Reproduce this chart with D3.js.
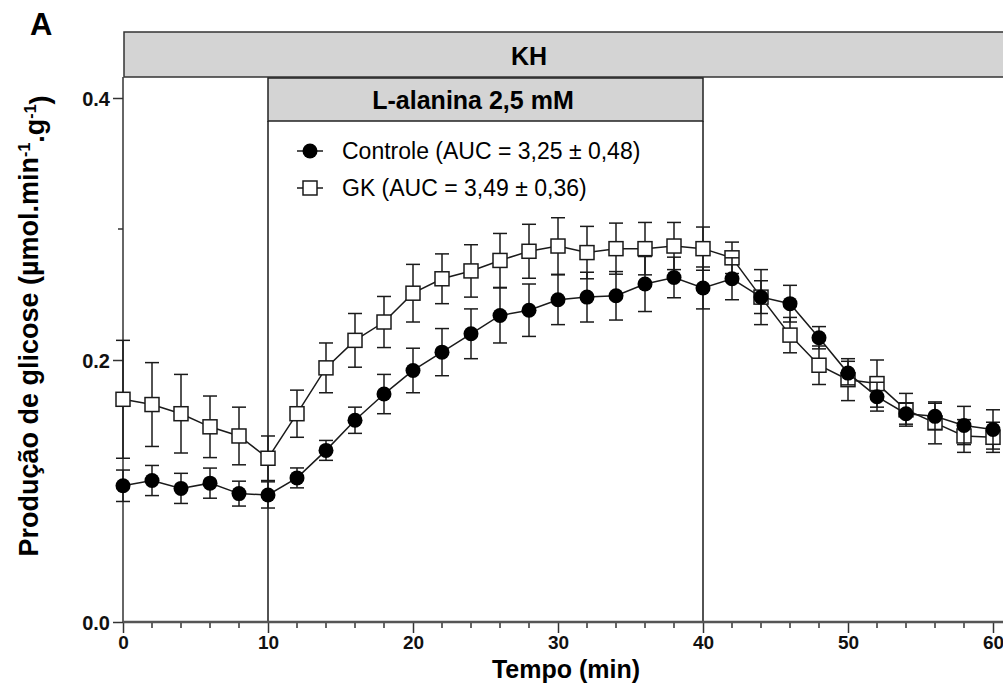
<!DOCTYPE html>
<html>
<head>
<meta charset="utf-8">
<script src="https://cdn.jsdelivr.net/npm/d3@7"></script>
<style>
  body { margin: 0; background: #fff; }
  svg { display: block; font-family: "Liberation Sans", Arial, sans-serif; }
</style>
</head>
<body>
<div id="chart"></div>
<script>
// tempo (min)
const times = [0, 2, 4, 6, 8, 10, 12, 14, 16, 18, 20, 22, 24, 26, 28, 30,
               32, 34, 36, 38, 40, 42, 44, 46, 48, 50, 52, 54, 56, 58, 60];

// producao de glicose, media e EPM
const controleMean = [0.104, 0.108, 0.102, 0.106, 0.098, 0.097, 0.110, 0.131, 0.154, 0.174,
                      0.192, 0.206, 0.220, 0.234, 0.238, 0.246, 0.248, 0.249, 0.258, 0.263,
                      0.255, 0.262, 0.248, 0.243, 0.217, 0.190, 0.172, 0.159, 0.157, 0.150, 0.147];
const controleSem  = [0.012, 0.0115, 0.0115, 0.0115, 0.0095, 0.010, 0.0076, 0.0076, 0.010, 0.015,
                      0.017, 0.018, 0.019, 0.021, 0.020, 0.019, 0.019, 0.0185, 0.021, 0.0155,
                      0.016, 0.016, 0.0125, 0.014, 0.0085, 0.009, 0.011, 0.008, 0.010, 0.0146, 0.015];
const gkMean = [0.170, 0.166, 0.159, 0.149, 0.142, 0.125, 0.159, 0.194, 0.215, 0.229,
                0.251, 0.262, 0.268, 0.276, 0.283, 0.287, 0.282, 0.285, 0.285, 0.287,
                0.285, 0.278, 0.248, 0.219, 0.196, 0.185, 0.182, 0.162, 0.152, 0.142, 0.141];
const gkSem  = [0.045, 0.032, 0.030, 0.0235, 0.022, 0.017, 0.018, 0.019, 0.0205, 0.0195,
                0.022, 0.019, 0.020, 0.0206, 0.0206, 0.0216, 0.020, 0.0195, 0.020, 0.018,
                0.0165, 0.012, 0.021, 0.0135, 0.0147, 0.016, 0.018, 0.0125, 0.016, 0.0125, 0.0115];

const xTicks = [0, 10, 20, 30, 40, 50, 60];
const xMinorTicks = [2, 4, 6, 8, 12, 14, 16, 18, 22, 24, 26, 28, 32, 34, 36, 38, 42, 44, 46, 48, 52, 54, 56, 58];
const yTicks = [0, 0.2, 0.4];
const yMinorTicks = [0.1, 0.3];

// periodos de perfusao
const khPeriod = [0, 64];
const alaninePeriod = [10, 40];

const legendLabels = ["Controle (AUC = 3,25 \u00B1 0,48)", "GK (AUC = 3,49 \u00B1 0,36)"];

drawChart();

function drawChart(){
  const width = 1003;
  const height = 699;
  const ink = "#1a1a1a";

  const svg = d3.select("#chart").append("svg")
                .attr("width", width)
                .attr("height", height);

  const x = d3.scaleLinear().domain([0, 60]).range([123, 993]);
  const y = d3.scaleLinear().domain([0, 0.4]).range([622, 98]);

  // barras de periodo
  const khTop = 32, khBottom = 77, alaTop = 78, alaBottom = 121;

  svg.append("rect")
      .attr("x", x(khPeriod[0]) + 1)
      .attr("y", khTop)
      .attr("width", x(khPeriod[1]) - x(khPeriod[0]))
      .attr("height", khBottom - khTop)
      .style("fill", "#d4d4d4")
      .style("stroke", "#333")
      .style("stroke-width", 1.5);

  svg.append("text")
      .attr("x", 529)
      .attr("y", 65)
      .attr("text-anchor", "middle")
      .style("font-size", "25px")
      .style("font-weight", "bold")
      .text("KH");

  svg.append("rect")
      .attr("x", x(alaninePeriod[0]))
      .attr("y", alaTop)
      .attr("width", x(alaninePeriod[1]) - x(alaninePeriod[0]))
      .attr("height", alaBottom - alaTop)
      .style("fill", "#d4d4d4")
      .style("stroke", "#222")
      .style("stroke-width", 1.5);

  svg.append("text")
      .attr("x", 473)
      .attr("y", 109)
      .attr("text-anchor", "middle")
      .style("font-size", "25px")
      .style("font-weight", "bold")
      .text("L-alanina 2,5 mM");

  svg.selectAll("line.period")
      .data(alaninePeriod)
      .enter().append("line")
      .attr("class", "period")
      .attr("x1", d => x(d)).attr("x2", d => x(d))
      .attr("y1", alaBottom).attr("y2", y(0))
      .style("stroke", ink)
      .style("stroke-width", 1.5);

  // eixo y
  const yAxis = svg.append("g")
      .attr("transform", `translate(${x(0)},0)`)
      .call(d3.axisLeft(y).tickValues(yTicks).tickFormat(d3.format(".1f")).tickSize(10).tickPadding(3));
  yAxis.select(".domain").remove();
  yAxis.selectAll("line").style("stroke", "#333").style("stroke-width", 1.5);
  yAxis.selectAll("text")
      .style("font-size", "20px")
      .style("font-weight", "bold")
      .style("font-family", "'Liberation Sans', Arial, sans-serif")
      .attr("dy", "0.36em")
      .style("fill", "#111");

  svg.append("line")
      .attr("x1", x(0)).attr("x2", x(0))
      .attr("y1", khBottom).attr("y2", y(0))
      .style("stroke", "#333")
      .style("stroke-width", 1.5);

  svg.selectAll("line.yminor")
      .data(yMinorTicks)
      .enter().append("line")
      .attr("class", "yminor")
      .attr("x1", x(0) - 5).attr("x2", x(0))
      .attr("y1", d => y(d)).attr("y2", d => y(d))
      .style("stroke", "#333")
      .style("stroke-width", 1.5);

  // eixo x
  const xAxis = svg.append("g")
      .attr("transform", `translate(0,${y(0)})`)
      .call(d3.axisBottom(x).tickValues(xTicks).tickSize(11).tickPadding(3));
  xAxis.select(".domain").remove();
  xAxis.selectAll("line").style("stroke", "#333").style("stroke-width", 1.5);
  xAxis.selectAll("text")
      .style("font-size", "19px")
      .style("font-weight", "bold")
      .style("font-family", "'Liberation Sans', Arial, sans-serif")
      .style("fill", "#111");

  svg.selectAll("line.xminor")
      .data(xMinorTicks)
      .enter().append("line")
      .attr("class", "xminor")
      .attr("x1", d => x(d)).attr("x2", d => x(d))
      .attr("y1", y(0)).attr("y2", y(0) + 6)
      .style("stroke", "#333")
      .style("stroke-width", 1.5);

  svg.append("line")
      .attr("x1", x(0)).attr("x2", width)
      .attr("y1", y(0)).attr("y2", y(0))
      .style("stroke", "#555")
      .style("stroke-width", 2.5);

  // titulos
  svg.append("text")
      .attr("x", 566)
      .attr("y", 678)
      .attr("text-anchor", "middle")
      .style("font-size", "25px")
      .style("font-weight", "bold")
      .text("Tempo (min)");

  const yLabel = svg.append("text")
      .attr("transform", "translate(38,326) rotate(-90)")
      .attr("text-anchor", "middle")
      .style("font-size", "27px")
      .style("font-weight", "bold");
  yLabel.append("tspan").text("Produção de glicose (µmol.min");
  yLabel.append("tspan").attr("dy", "-0.5em").style("font-size", "16px").text("-1");
  yLabel.append("tspan").attr("dy", "0.5em").text(".g");
  yLabel.append("tspan").attr("dy", "-0.5em").style("font-size", "16px").text("-1");
  yLabel.append("tspan").attr("dy", "0.5em").text(")");

  svg.append("text")
      .attr("x", 30)
      .attr("y", 35)
      .style("font-size", "31px")
      .style("font-weight", "bold")
      .text("A");

  // series
  const series = [
    {name: "gk", mean: gkMean, sem: gkSem},
    {name: "controle", mean: controleMean, sem: controleSem}
  ];

  const line = d3.line()
      .x((d, i) => x(times[i]))
      .y(d => y(d));

  const capHalf = 7;

  series.forEach(s => {
    const g = svg.append("g").attr("class", s.name);

    const bars = g.selectAll("g.err")
        .data(times)
        .enter().append("g")
        .attr("class", "err");

    bars.append("line")
        .attr("x1", d => x(d)).attr("x2", d => x(d))
        .attr("y1", (d, i) => y(s.mean[i] + s.sem[i]))
        .attr("y2", (d, i) => y(s.mean[i] - s.sem[i]));
    bars.append("line")
        .attr("x1", d => x(d) - capHalf).attr("x2", d => x(d) + capHalf)
        .attr("y1", (d, i) => y(s.mean[i] + s.sem[i]))
        .attr("y2", (d, i) => y(s.mean[i] + s.sem[i]));
    bars.append("line")
        .attr("x1", d => x(d) - capHalf).attr("x2", d => x(d) + capHalf)
        .attr("y1", (d, i) => y(s.mean[i] - s.sem[i]))
        .attr("y2", (d, i) => y(s.mean[i] - s.sem[i]));
    bars.selectAll("line")
        .style("stroke", ink)
        .style("stroke-width", 1.5);

    g.append("path")
        .datum(s.mean)
        .attr("d", line)
        .style("fill", "none")
        .style("stroke", ink)
        .style("stroke-width", 1.5);

    if (s.name === "gk") {
      g.selectAll("rect")
          .data(s.mean)
          .enter().append("rect")
          .attr("x", (d, i) => x(times[i]) - 7)
          .attr("y", d => y(d) - 7)
          .attr("width", 14)
          .attr("height", 14)
          .style("fill", "#fff")
          .style("stroke", ink)
          .style("stroke-width", 1.5);
    } else {
      g.selectAll("circle")
          .data(s.mean)
          .enter().append("circle")
          .attr("cx", (d, i) => x(times[i]))
          .attr("cy", d => y(d))
          .attr("r", 7.5)
          .style("fill", "#000");
    }
  });

  // legenda
  const legend = svg.append("g");
  const legendY = [151, 188];

  legend.selectAll("line")
      .data(legendY)
      .enter().append("line")
      .attr("x1", 297).attr("x2", 323)
      .attr("y1", d => d).attr("y2", d => d)
      .style("stroke", ink)
      .style("stroke-width", 1.5);

  legend.append("circle")
      .attr("cx", 310).attr("cy", legendY[0])
      .attr("r", 7.5)
      .style("fill", "#000");

  legend.append("rect")
      .attr("x", 303).attr("y", legendY[1] - 7)
      .attr("width", 14).attr("height", 14)
      .style("fill", "#fff")
      .style("stroke", ink)
      .style("stroke-width", 1.5);

  legend.selectAll("text")
      .data(legendLabels)
      .enter().append("text")
      .attr("x", 342)
      .attr("y", (d, i) => legendY[i] + 8)
      .style("font-size", "23px")
      .text(d => d);
}
</script>
</body>
</html>
